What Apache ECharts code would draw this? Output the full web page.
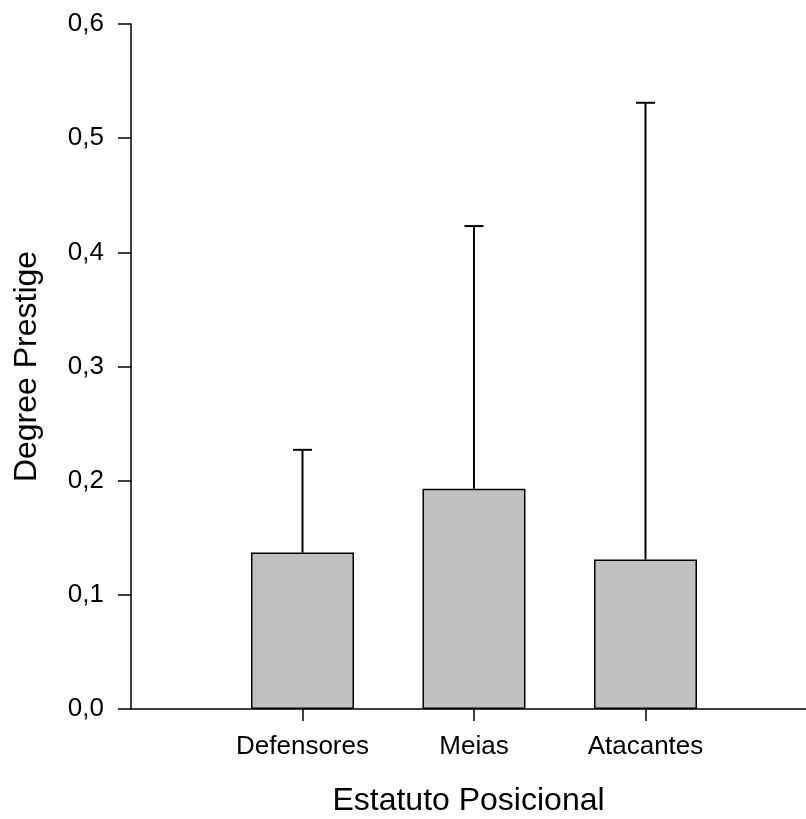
<!DOCTYPE html>
<html>
<head>
<meta charset="utf-8">
<script src="https://cdn.jsdelivr.net/npm/echarts@6/dist/echarts.min.js"></script>
<style>html,body{margin:0;padding:0;background:#fff}#c{width:806px;height:819px}</style>
</head>
<body>
<div id="c"></div>
<script>
var categories = ['Defensores', 'Meias', 'Atacantes'];
var means = [0.137, 0.193, 0.131];
var errorTops = [0.227, 0.423, 0.531];

var F = 'Liberation Sans, Arial, sans-serif';
var barData = means.map(function (v, i) { return [i + 1, v]; });
var errData = means.map(function (v, i) { return [i + 1, v, errorTops[i]]; });
var catPos = categories.map(function (c, i) { return i + 1; });

var chart = echarts.init(document.getElementById('c'), null, {renderer: 'canvas'});
chart.setOption({
  animation: false,
  backgroundColor: '#fff',
  grid: {left: 131, top: 24, right: 0, bottom: 110, containLabel: false, outerBoundsMode: 'none'},
  xAxis: {
    type: 'value', min: 0, max: 3.936,
    name: 'Estatuto Posicional', nameLocation: 'middle', nameGap: 76,
    nameTextStyle: {fontFamily: F, fontSize: 32, color: '#000'},
    splitLine: {show: false},
    axisLine: {show: true, lineStyle: {color: '#000', width: 1.5}},
    axisTick: {show: true, customValues: catPos, length: 12, lineStyle: {color: '#000', width: 1.5}},
    axisLabel: {
      customValues: catPos, margin: 25,
      fontFamily: F, fontSize: 26, color: '#000',
      formatter: function (v) { return categories[Math.round(v) - 1] || ''; }
    }
  },
  yAxis: {
    type: 'value', min: 0, max: 0.6, interval: 0.1,
    name: 'Degree Prestige', nameLocation: 'middle', nameGap: 88,
    nameTextStyle: {fontFamily: F, fontSize: 32, color: '#000'},
    splitLine: {show: false},
    axisLine: {show: true, lineStyle: {color: '#000', width: 1.5}},
    axisTick: {show: true, inside: false, length: 13, lineStyle: {color: '#000', width: 1.5}},
    axisLabel: {
      margin: 27, fontFamily: F, fontSize: 26, color: '#000',
      formatter: function (v) { return v.toFixed(1).replace('.', ','); }
    }
  },
  series: [
    {
      type: 'bar', data: barData, barWidth: 103,
      itemStyle: {color: '#c0c0c0', borderColor: '#000', borderWidth: 1.5},
      z: 2
    },
    {
      type: 'custom', data: errData, z: 3,
      renderItem: function (params, api) {
        var x = api.value(0);
        var b = api.coord([x, api.value(1)]);
        var t = api.coord([x, api.value(2)]);
        var hw = 9.5;
        return {
          type: 'group',
          children: [
            {type: 'line', shape: {x1: b[0], y1: b[1], x2: t[0], y2: t[1]}, style: {stroke: '#000', lineWidth: 2}},
            {type: 'line', shape: {x1: t[0] - hw, y1: t[1], x2: t[0] + hw, y2: t[1]}, style: {stroke: '#000', lineWidth: 2}}
          ]
        };
      }
    }
  ]
});
</script>
</body>
</html>
